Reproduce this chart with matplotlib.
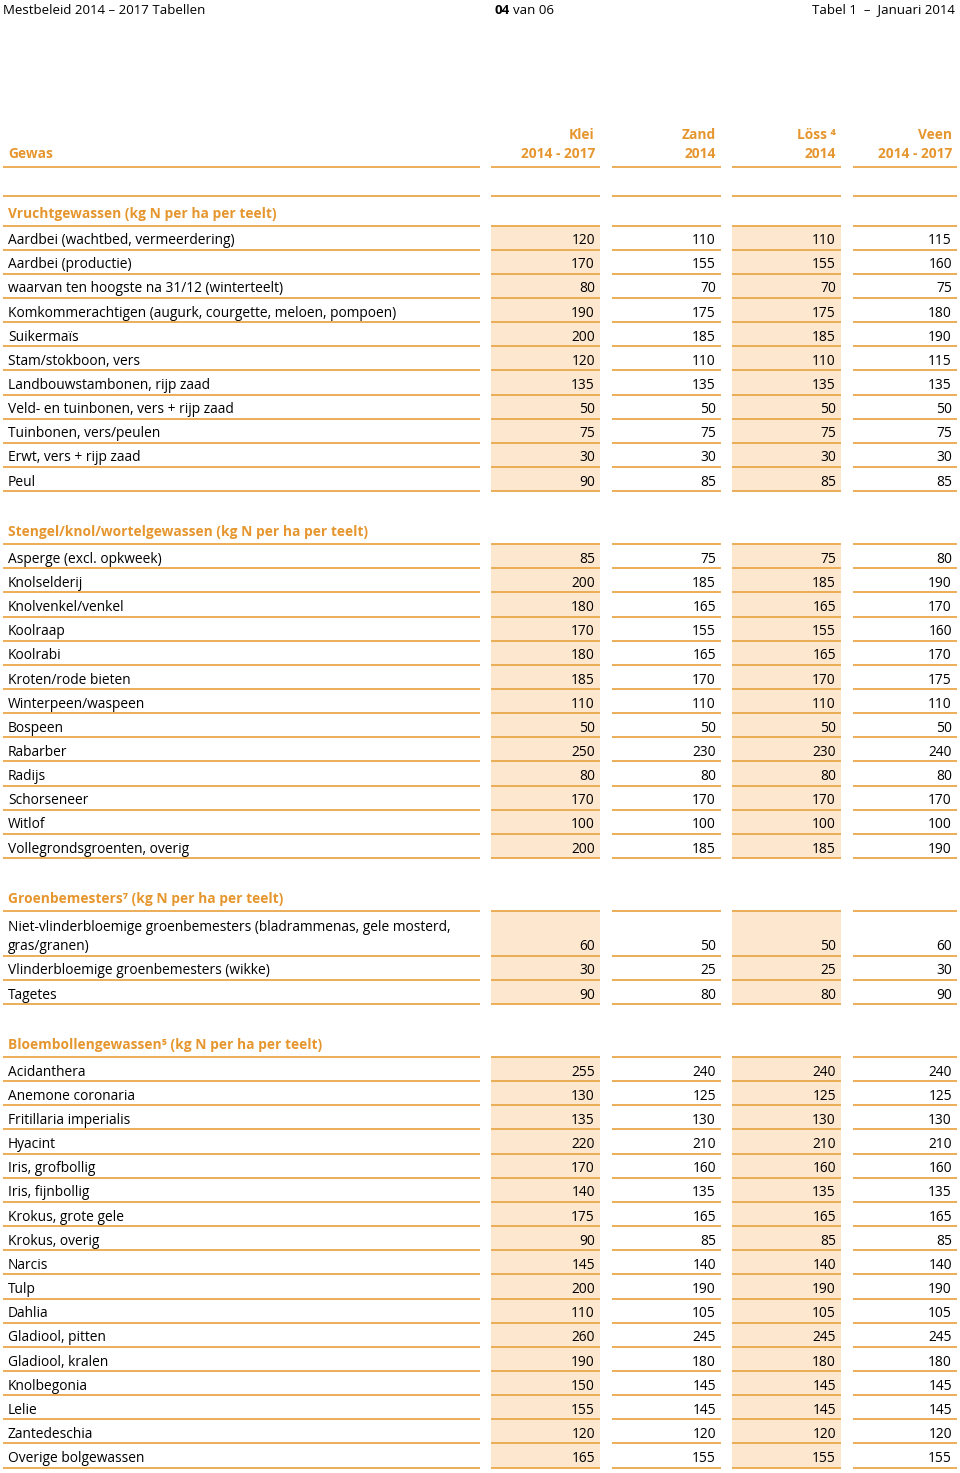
import matplotlib
matplotlib.use("Agg")
import matplotlib.pyplot as plt
from matplotlib.patches import Rectangle

plt.rcParams['font.family'] = ['Open Sans', 'DejaVu Sans']

# --- data -------------------------------------------------------------
columns = ["Klei\n2014 - 2017", "Zand\n2014", "Löss ⁴\n2014", "Veen\n2014 - 2017"]

sec1_title = "Vruchtgewassen (kg N per ha per teelt)"
sec1_rows = ["Aardbei (wachtbed, vermeerdering)", "Aardbei (productie)",
             "waarvan ten hoogste na 31/12 (winterteelt)",
             "Komkommerachtigen (augurk, courgette, meloen, pompoen)",
             "Suikermaïs", "Stam/stokboon, vers", "Landbouwstambonen, rijp zaad",
             "Veld- en tuinbonen, vers + rijp zaad", "Tuinbonen, vers/peulen",
             "Erwt, vers + rijp zaad", "Peul"]
sec1_vals = [[120, 110, 110, 115], [170, 155, 155, 160], [80, 70, 70, 75],
             [190, 175, 175, 180], [200, 185, 185, 190], [120, 110, 110, 115],
             [135, 135, 135, 135], [50, 50, 50, 50], [75, 75, 75, 75],
             [30, 30, 30, 30], [90, 85, 85, 85]]

sec2_title = "Stengel/knol/wortelgewassen (kg N per ha per teelt)"
sec2_rows = ["Asperge (excl. opkweek)", "Knolselderij", "Knolvenkel/venkel",
             "Koolraap", "Koolrabi", "Kroten/rode bieten", "Winterpeen/waspeen",
             "Bospeen", "Rabarber", "Radijs", "Schorseneer", "Witlof",
             "Vollegrondsgroenten, overig"]
sec2_vals = [[85, 75, 75, 80], [200, 185, 185, 190], [180, 165, 165, 170],
             [170, 155, 155, 160], [180, 165, 165, 170], [185, 170, 170, 175],
             [110, 110, 110, 110], [50, 50, 50, 50], [250, 230, 230, 240],
             [80, 80, 80, 80], [170, 170, 170, 170], [100, 100, 100, 100],
             [200, 185, 185, 190]]

sec3_title = "Groenbemesters⁷ (kg N per ha per teelt)"
sec3_rows = ["Niet-vlinderbloemige groenbemesters (bladrammenas, gele mosterd,\ngras/granen)",
             "Vlinderbloemige groenbemesters (wikke)", "Tagetes"]
sec3_vals = [[60, 50, 50, 60], [30, 25, 25, 30], [90, 80, 80, 90]]

sec4_title = "Bloembollengewassen⁵ (kg N per ha per teelt)"
sec4_rows = ["Acidanthera", "Anemone coronaria", "Fritillaria imperialis", "Hyacint",
             "Iris, grofbollig", "Iris, fijnbollig", "Krokus, grote gele",
             "Krokus, overig", "Narcis", "Tulp", "Dahlia", "Gladiool, pitten",
             "Gladiool, kralen", "Knolbegonia", "Lelie", "Zantedeschia",
             "Overige bolgewassen"]
sec4_vals = [[255, 240, 240, 240], [130, 125, 125, 125], [135, 130, 130, 130],
             [220, 210, 210, 210], [170, 160, 160, 160], [140, 135, 135, 135],
             [175, 165, 165, 165], [90, 85, 85, 85], [145, 140, 140, 140],
             [200, 190, 190, 190], [110, 105, 105, 105], [260, 245, 245, 245],
             [190, 180, 180, 180], [150, 145, 145, 145], [155, 145, 145, 145],
             [120, 120, 120, 120], [165, 155, 155, 155]]

sections = [(sec1_title, sec1_rows, sec1_vals), (sec2_title, sec2_rows, sec2_vals),
            (sec3_title, sec3_rows, sec3_vals), (sec4_title, sec4_rows, sec4_vals)]

# --- style / layout ---------------------------------------------------
ORANGE = '#e6962e'
LINE = '#eaa84c'
SHADE = '#fde7cf'
FS = 9.9
col_x = [(3, 480), (491, 600), (612, 721), (732, 841), (853, 957)]
shaded = [1, 3]
row_h = 24.15
line_h = 19
dy = 2  # nudge text down a little

fig = plt.figure(figsize=(9.6, 14.73), dpi=100)
ax = fig.add_axes([0, 0, 1, 1])
ax.set_xlim(0, 960)
ax.set_ylim(1473, 0)
ax.axis('off')


def hline(y):
    for x0, x1 in col_x:
        ax.plot([x0, x1], [y, y], color=LINE, lw=1.3, solid_capstyle='butt')


# page header
ax.text(3, 10, "Mestbeleid 2014 – 2017 Tabellen", fontsize=9.5, va='center', ha='left')
ax.text(510, 10, "04", fontsize=9.5, va='center', ha='right', fontweight='bold')
ax.text(513, 10, "van 06", fontsize=9.5, va='center', ha='left')
ax.text(955, 10, "Tabel 1  –  Januari 2014", fontsize=9.5, va='center', ha='right')

# column header
ax.text(8, 152 + dy, "Gewas", fontsize=FS, color=ORANGE, fontweight='bold', va='center')
for i, name in enumerate(columns):
    top, bottom = name.split("\n")
    xr = col_x[i + 1][1] - 5
    ax.text(xr, 133 + dy, top, fontsize=FS, color=ORANGE, fontweight='bold', va='center', ha='right')
    ax.text(xr, 152 + dy, bottom, fontsize=FS, color=ORANGE, fontweight='bold', va='center', ha='right')
hline(166.5)
hline(196)

y = 196
for k, (title, rows, vals) in enumerate(sections):
    if k == 0:
        title_y = 212
        y = 225.5
    else:
        title_y = y + 38.5
        y = y + 53
    ax.text(8, title_y + dy, title, fontsize=FS, color=ORANGE, fontweight='bold', va='center')
    hline(y)
    for label, v in zip(rows, vals):
        n = label.count("\n") + 1
        h = row_h + (n - 1) * (line_h + 1.5)
        for c in shaded:
            x0, x1 = col_x[c]
            ax.add_patch(Rectangle((x0, y), x1 - x0, h, facecolor=SHADE, edgecolor='none', zorder=0))
        base = y + h - 11 + dy
        for j, part in enumerate(label.split("\n")):
            ax.text(8, base - (n - 1 - j) * line_h, part, fontsize=FS, va='center', ha='left')
        for c, val in enumerate(v):
            ax.text(col_x[c + 1][1] - 5, base, str(val), fontsize=FS, va='center', ha='right')
        y += h
        hline(y)

fig.savefig("out.png", dpi=100)
